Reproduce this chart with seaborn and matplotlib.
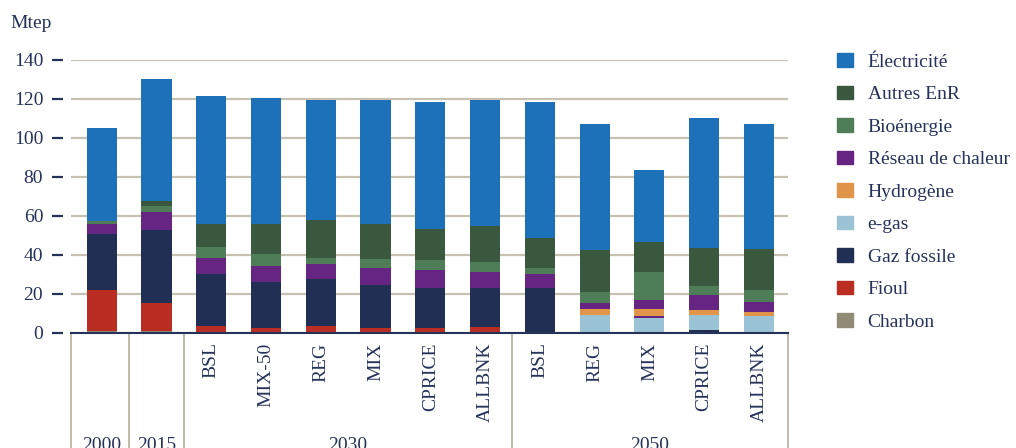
import pandas as pd
import matplotlib.pyplot as plt
import seaborn as sns
from matplotlib.patches import Patch

# Données (Mtep)
annees = ['2000', '2015', '2030', '2030', '2030', '2030', '2030', '2030',
          '2050', '2050', '2050', '2050', '2050']
scenarios = ['', '', 'BSL', 'MIX-50', 'REG', 'MIX', 'CPRICE', 'ALLBNK',
             'BSL', 'REG', 'MIX', 'CPRICE', 'ALLBNK']

charbon = [0.9, 0.9, 0, 0, 0, 0, 0, 0, 0, 0, 0, 0, 0]
fioul = [21.0, 14.5, 3.4, 2.4, 3.4, 2.4, 2.4, 3.0, 0, 0, 0, 0, 0]
gaz_fossile = [28.9, 37.4, 26.9, 23.8, 24.3, 22.2, 20.7, 20.1, 23.1, 0, 0, 1.5, 0]
e_gas = [0, 0, 0, 0, 0, 0, 0, 0, 0, 9.2, 7.7, 7.7, 8.7]
reseau_bas = [0, 0, 0, 0, 0, 0, 0, 0, 0, 0, 1.0, 0, 0]
hydrogene = [0, 0, 0, 0, 0, 0, 0, 0, 0, 3.1, 3.6, 2.6, 2.1]
reseau_chaleur = [5.1, 9.2, 8.2, 8.2, 7.7, 8.7, 9.2, 8.2, 7.2, 3.1, 4.6, 7.7, 5.1]
bioenergie = [1.5, 3.1, 5.6, 6.1, 3.1, 4.6, 5.1, 5.1, 3.0, 5.6, 14.4, 4.6, 6.2]
autres_enr = [0, 2.6, 11.8, 15.4, 19.4, 18.0, 15.9, 18.5, 15.4, 21.6, 15.4, 19.5, 21.0]
electricite = [47.7, 62.6, 65.6, 64.6, 61.6, 63.6, 65.2, 64.6, 69.8, 64.6, 36.9, 66.7, 64.1]

# ordre d'empilement, du bas vers le haut
couches = [
    ('Charbon', charbon, '#918a74'),
    ('Fioul', fioul, '#b92d22'),
    ('Gaz fossile', gaz_fossile, '#212f55'),
    ('e-gas', e_gas, '#9ac4d6'),
    ('_reseau_bas', reseau_bas, '#662483'),
    ('Hydrogène', hydrogene, '#e0954a'),
    ('Réseau de chaleur', reseau_chaleur, '#662483'),
    ('Bioénergie', bioenergie, '#4e7d58'),
    ('Autres EnR', autres_enr, '#3a583e'),
    ('Électricité', electricite, '#1c71b8'),
]

df = pd.DataFrame({'pos': range(len(scenarios))})
cumul = [0.0] * len(scenarios)
for nom, vals, col in couches:
    cumul = [a + b for a, b in zip(cumul, vals)]
    df[nom] = cumul

navy = '#27325a'
sns.set_style('white')
plt.rcParams['font.family'] = ['Liberation Serif', 'DejaVu Serif']
plt.rcParams['font.size'] = 14

fig = plt.figure(figsize=(10.16, 4.48), dpi=100)
ax = fig.add_axes([71 / 1016, 115.3 / 448, 717 / 1016, 272.7 / 448])

# barres empilées : on dessine les cumuls du plus haut au plus bas
for nom, vals, col in reversed(couches):
    sns.barplot(data=df, x='pos', y=nom, color=col, saturation=1, width=0.55,
                linewidth=0, errorbar=None, ax=ax)

xmin, xmax = -0.56, 12.53
ax.set_xlim(xmin, xmax)
ax.set_ylim(0, 140)
ax.set_yticks(range(0, 141, 20))
ax.yaxis.grid(True, color='#c6c1b0', lw=1.6)
ax.set_axisbelow(True)
ax.set_xlabel('')
ax.set_ylabel('')

for s in ['top', 'right', 'left']:
    ax.spines[s].set_visible(False)
ax.spines['left'].set_position(('outward', 6))
ax.spines['bottom'].set_color(navy)
ax.spines['bottom'].set_linewidth(1.5)

ax.tick_params(axis='y', left=True, colors=navy, length=8, width=1.6, pad=6,
               labelsize=14)
ax.tick_params(axis='x', bottom=False, colors=navy, length=0, pad=7,
               labelsize=14)
ax.set_xticks(range(len(scenarios)))
ax.set_xticklabels(scenarios, rotation=90)

# séparateurs des groupes sous l'axe
trans = ax.get_xaxis_transform()
for x in [xmin, 0.5, 1.5, 7.5, xmax]:
    ax.plot([x, x], [0, -0.43], transform=trans, color='#b5ae9a', lw=1.2,
            clip_on=False)

groupes = {'2000': 0, '2015': 1, '2030': 4.5, '2050': 10}
for g, x in groupes.items():
    ax.text(x, -0.43, g, transform=trans, ha='center', va='baseline',
            color=navy, fontsize=14)

fig.text(10 / 1016, 1 - 24 / 448, 'Mtep', color=navy, fontsize=14,
         ha='left', va='center')

handles = [Patch(color=col, label=nom) for nom, vals, col in reversed(couches)
           if not nom.startswith('_')]
leg = fig.legend(handles=handles, loc='upper left',
                 bbox_to_anchor=(837 / 1016, 1 - 53 / 448), frameon=False,
                 borderpad=0, borderaxespad=0, handlelength=0.82,
                 handleheight=0.72, handletextpad=0.75, labelspacing=0.76,
                 fontsize=14)
for t in leg.get_texts():
    t.set_color(navy)

plt.savefig('out.png', dpi=100)
